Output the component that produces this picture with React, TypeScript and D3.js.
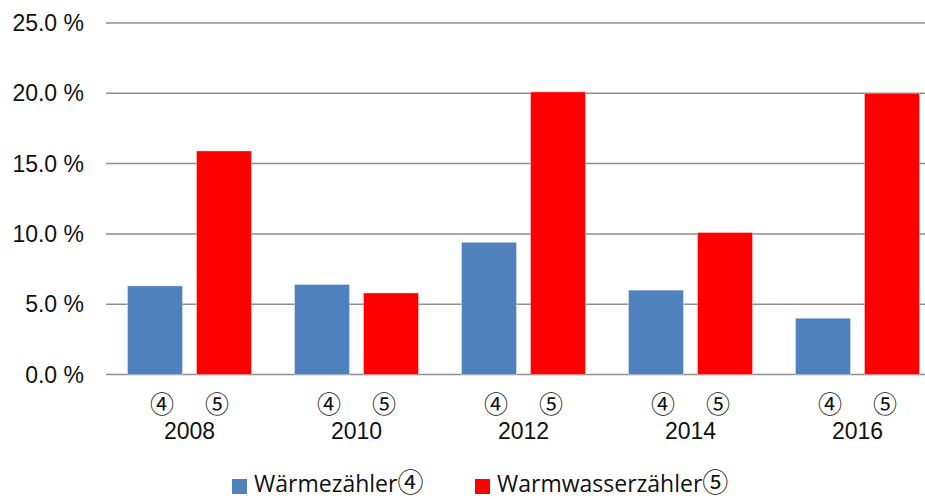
import React from "react";
import * as d3 from "d3";

const years = ["2008", "2010", "2012", "2014", "2016"];
const waermeValues = [6.3, 6.4, 9.4, 6.0, 4.0];
const warmwasserValues = [15.9, 5.8, 20.1, 10.1, 20.0];
const yTicks = [0, 5, 10, 15, 20, 25];
const seriesKeys = ["w", "ww"];
const seriesMarks = ["④", "⑤"];
const legendNames = ["Wärmezähler", "Warmwasserzähler"];
const colors = ["#4f81bd", "#ff0000"];

const CJK = "Noto Sans CJK JP, DejaVu Sans, sans-serif";

export default function App() {
  const W = 925, H = 499;
  const y = d3.scaleLinear().domain([0, 25]).range([374.5, 23]);
  const x = d3.scaleBand().domain(years).range([106, 941]).padding(0);
  const xs = d3.scaleBand().domain(seriesKeys).range([0, x.bandwidth()]).paddingInner(0.203).paddingOuter(0.3116);
  const series = [waermeValues, warmwasserValues];
  const legendX = [232, 475];
  const legendTextX = [254, 497];

  return (
    <svg width={W} height={H} style={{ position: "absolute", left: 0, top: 0, background: "#fff" }}>
      {yTicks.map((t) => (
        <g key={t}>
          <line x1={106} x2={925} y1={y(t)} y2={y(t)} stroke="#8e8e8e" strokeWidth={1.5} />
          <text x={84} y={y(t)} textAnchor="end" dominantBaseline="central" fontFamily="Liberation Sans, Arial, sans-serif" fontSize={23} fill="#111">
            {t.toFixed(1) + " %"}
          </text>
        </g>
      ))}
      {years.map((yr, i) => (
        <g key={yr} transform={`translate(${x(yr)},0)`}>
          {series.map((vals, s) => (
            <rect key={s} x={xs(seriesKeys[s])} width={xs.bandwidth()} y={y(vals[i])} height={y(0) - y(vals[i])}
              fill={colors[s]} stroke="#ffffff" strokeOpacity={0.35} strokeWidth={1} />
          ))}
          {seriesMarks.map((m, s) => (
            <text key={m} x={x.bandwidth() / 2 + (s === 0 ? -27.5 : 27.5)} y={413} textAnchor="middle"
              fontFamily={CJK} fontSize={24} fill="#111">
              {m}
            </text>
          ))}
          <text x={x.bandwidth() / 2} y={439} textAnchor="middle" fontFamily="Liberation Sans, Arial, sans-serif" fontSize={23} fill="#111">
            {yr}
          </text>
        </g>
      ))}
      {legendNames.map((l, i) => (
        <g key={l}>
          <rect x={legendX[i]} y={479} width={15} height={15} fill={colors[i]} />
          <text x={legendTextX[i]} y={492} fontFamily="Open Sans, sans-serif" fontSize={23} fill="#111">
            {l}
            <tspan fontFamily={CJK} fontSize={26}>{seriesMarks[i]}</tspan>
          </text>
        </g>
      ))}
    </svg>
  );
}
